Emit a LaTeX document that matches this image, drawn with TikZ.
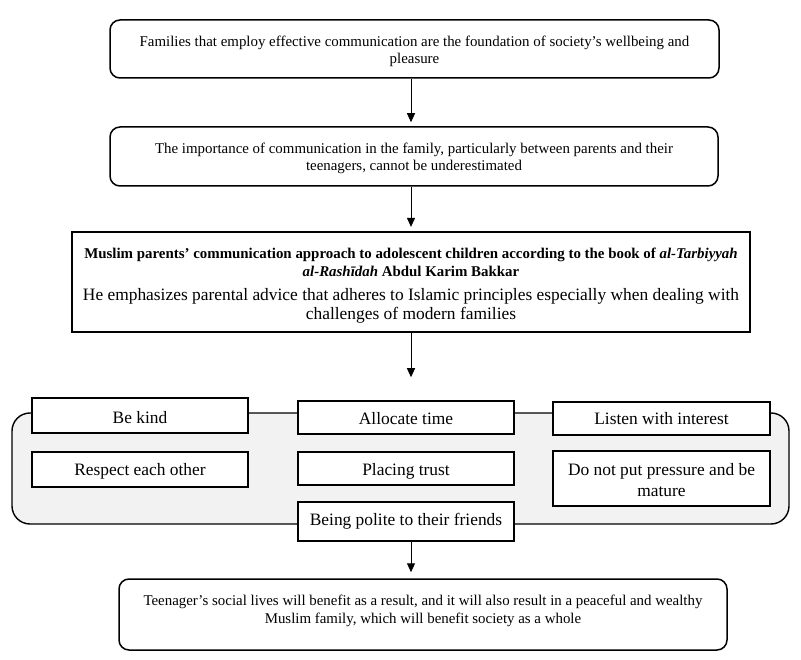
\documentclass[tikz,border=0pt]{standalone}
\usepackage{fontspec}
\setmainfont{Liberation Serif}
\usetikzlibrary{arrows.meta}
\definecolor{groupgray}{HTML}{F2F2F2}
\newcommand\tstr[1]{\rule{0pt}{#1}}
\begin{document}
\begin{tikzpicture}[x=1pt,y=-1pt,
  bigbox/.style={draw, line width=1.5pt, rounded corners=10pt, inner sep=0pt,
    align=flush center, font=\fontsize{14.9}{17}\selectfont},
  mainbox/.style={draw, line width=2.2pt, inner sep=0pt, align=flush center,
    font=\fontsize{17.4}{19}\selectfont},
  sbox/.style={draw, fill=white, line width=1.5pt, inner sep=0pt, text width=216pt,
    align=flush center, font=\fontsize{17.4}{21}\selectfont},
  grpbox/.style={draw, fill=groupgray, line width=1.4pt, rounded corners=18pt, inner sep=0pt},
  arr/.style={line width=1pt, -{Triangle[width=8pt,length=9pt]}}
]
\useasboundingbox (0,0) rectangle (801,660);
\fill[white] (0,0) rectangle (801,660);

\node[bigbox, text width=609pt, minimum height=58pt] (b1) at (414.5,49)
  {\tstr{16pt}Families that employ effective communication are the foundation of society’s wellbeing and\\pleasure};
\node[bigbox, text width=608pt, minimum height=59pt] (b2) at (414,156.5)
  {\tstr{14pt}The importance of communication in the family, particularly between parents and their\\teenagers, cannot be underestimated};
\node[mainbox, text width=678pt, minimum height=100pt] (b3) at (411,282)
  {{\fontsize{14.9}{18}\selectfont\bfseries\tstr{18pt}Muslim parents’ communication approach to adolescent children according to the book of \textit{al-Tarbiyyah}}\\[-1pt]
   {\fontsize{14.9}{18}\selectfont\bfseries\textit{al-Rashīdah} Abdul Karim Bakkar}\\[4.5pt]
   He emphasizes parental advice that adheres to Islamic principles especially when dealing with\\
   challenges of modern families};

\node[grpbox, minimum width=777pt, minimum height=111pt] (grp) at (400.5,468.5) {};

\node[sbox, minimum height=35pt] (kind) at (140,415.5) {\tstr{16pt}Be kind};
\node[sbox, minimum height=33pt] (alloc) at (406,417.5) {\tstr{14pt}Allocate time};
\node[sbox, text width=217pt, minimum height=33pt] (listen) at (661.5,418.5) {Listen with interest};
\node[sbox, minimum height=35pt] (respect) at (140,469.5) {\tstr{16pt}Respect each other};
\node[sbox, minimum height=33pt] (trust) at (406,468.5) {\tstr{18pt}Placing trust};
\node[sbox, text width=217pt, minimum height=55pt] (press) at (661.5,478.5) {\tstr{16pt}Do not put pressure and be\\mature};
\node[sbox, minimum height=39pt] (polite) at (406,521.5) {Being polite to their friends};

\node[bigbox, minimum width=608pt, minimum height=71pt] (b4) at (423,614.5) {};
\node[inner sep=0pt, align=center, font=\fontsize{14.9}{18}\selectfont] (b4text) at (423,611)
  {Teenager’s social lives will benefit as a result, and it will also result in a peaceful and wealthy\\Muslim family, which will benefit society as a whole};

\draw[arr, shorten >=4pt] (b1.south -| b3.south) -- (b2.north -| b3.south);
\draw[arr, shorten >=4pt] (b2.south -| b3.south) -- (b3.north);
\draw[arr, shorten >=23pt] (b3.south) -- (alloc.north -| b3.south);
\draw[arr, shorten >=6pt] (polite.south -| b3.south) -- (b4.north -| b3.south);
\end{tikzpicture}
\end{document}
